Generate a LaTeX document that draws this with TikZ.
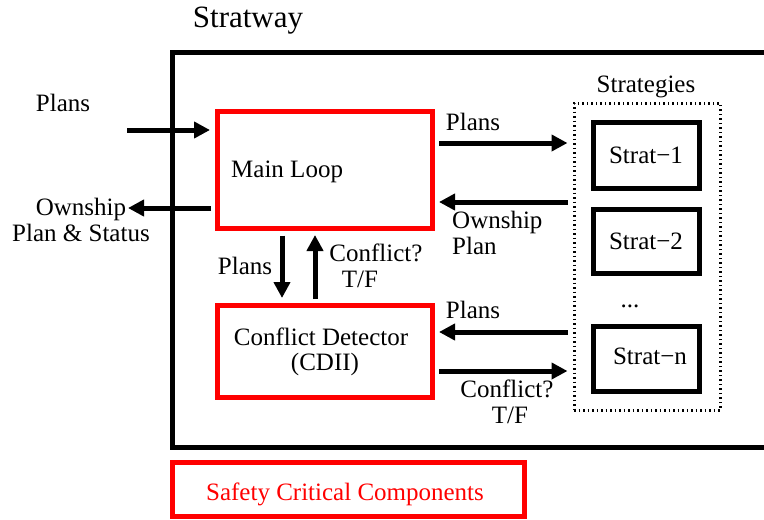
\documentclass[tikz,border=0pt]{standalone}
\usepackage{fontspec}
\setmainfont{Liberation Serif}
\usetikzlibrary{arrows.meta,calc}
\begin{document}
\begin{tikzpicture}[x=1pt,y=-1pt,
  every node/.style={font=\fontsize{25}{26}\selectfont, inner sep=0pt},
  lbl/.style={anchor=base},
  lblw/.style={anchor=base west},
  safebox/.style={draw=red, line width=5pt},
  sbox/.style={draw=black, line width=5pt, minimum width=106pt},
  dotbox/.style={draw=black, line width=3pt, dash pattern=on 1.5pt off 3pt},
  flow/.style={-{Triangle[length=16pt,width=16pt]}, line width=5pt}
]
\useasboundingbox (0,0) rectangle (764,520);

% outer Stratway frame (open towards the right edge)
\draw[line width=5pt] (775,52) -- (172,52) -- (172,447) -- (775,447);
\node[lbl, font=\fontsize{31}{33}\selectfont] (title) at (248,27) {Stratway};

% main loop
\node[safebox, minimum width=215pt, minimum height=117pt] (main) at (324.5,169.5) {};
\node[lblw] (mainlbl) at (231,177) {Main Loop};

% conflict detector
\node[safebox, minimum width=215pt, minimum height=92pt] (cd) at (324.5,351) {};
\node[lbl] (cd1) at (321,345) {Conflict Detector};
\node[lbl] (cd2) at (325,370) {(CDII)};

% legend box
\node[safebox, minimum width=352pt, minimum height=54pt] (safe) at (348,489) {};
\node[lbl, text=red] (safelbl) at (345,500) {Safety Critical Components};

% strategies
\node[dotbox, minimum width=146pt, minimum height=307pt] (strat) at (647,256.5) {};
\node[lbl] (stratlbl) at (646,92) {Strategies};
\node[sbox, minimum height=66pt] (s1) at (646,155) {};
\node[lbl] (s1lbl) at (646,163) {Strat−1};
\node[sbox, minimum height=64pt] (s2) at (646,241) {};
\node[lbl] (s2lbl) at (646,249) {Strat−2};
\node[lbl] (dots) at (630,307) {...};
\node[sbox, minimum height=65pt] (sn) at (646,358.5) {};
\node[lbl] (snlbl) at (650,364) {Strat−n};

% helper rows and columns
\coordinate (yA) at (0,143);
\coordinate (yB) at (0,202);
\coordinate (yC) at (0,332);
\coordinate (yD) at (0,371);
\coordinate (yE) at (0,130);
\coordinate (yF) at (0,208);
\coordinate (xA) at (282,0);
\coordinate (xB) at (315,0);
\coordinate (inplans) at (127,130);
\coordinate (outown) at (128,208);

% connectors
\draw[flow] ($(main.east|-yA)+(4.5,0)$) -- ($(strat.west|-yA)+(-5,0)$);
\draw[flow] ($(strat.west|-yB)+(-5,0)$) -- ($(main.east|-yB)+(4.5,0)$);
\draw[flow] ($(strat.west|-yC)+(-5,0)$) -- ($(cd.east|-yC)+(4.5,0)$);
\draw[flow] ($(cd.east|-yD)+(4.5,0)$) -- ($(strat.west|-yD)+(-5,0)$);
\draw[flow] ($(main.south-|xA)+(0,5)$) -- ($(cd.north-|xA)+(0,-4.5)$);
\draw[flow] ($(cd.north-|xB)+(0,-3.5)$) -- ($(main.south-|xB)+(0,4.5)$);
\draw[flow] (inplans) -- ($(main.west|-yE)+(-4.5,0)$);
\draw[flow] ($(main.west|-yF)+(-3.5,0)$) -- (outown);

% connector labels
\node[lbl] (l1) at (63,111) {Plans};
\node[lbl] (l2a) at (81,215) {Ownship};
\node[lbl] (l2b) at (81,241) {Plan \& Status};
\node[lbl] (l3) at (473,130) {Plans};
\node[lblw] (l4a) at (452,228) {Ownship};
\node[lblw] (l4b) at (452,254) {Plan};
\node[lbl] (l5) at (473,318) {Plans};
\node[lbl] (l6a) at (507,397) {Conflict?};
\node[lbl] (l6b) at (510,423) {T/F};
\node[lbl] (l7) at (245,274) {Plans};
\node[lbl] (l8a) at (376,261) {Conflict?};
\node[lbl] (l8b) at (360,287) {T/F};
\end{tikzpicture}
\end{document}
